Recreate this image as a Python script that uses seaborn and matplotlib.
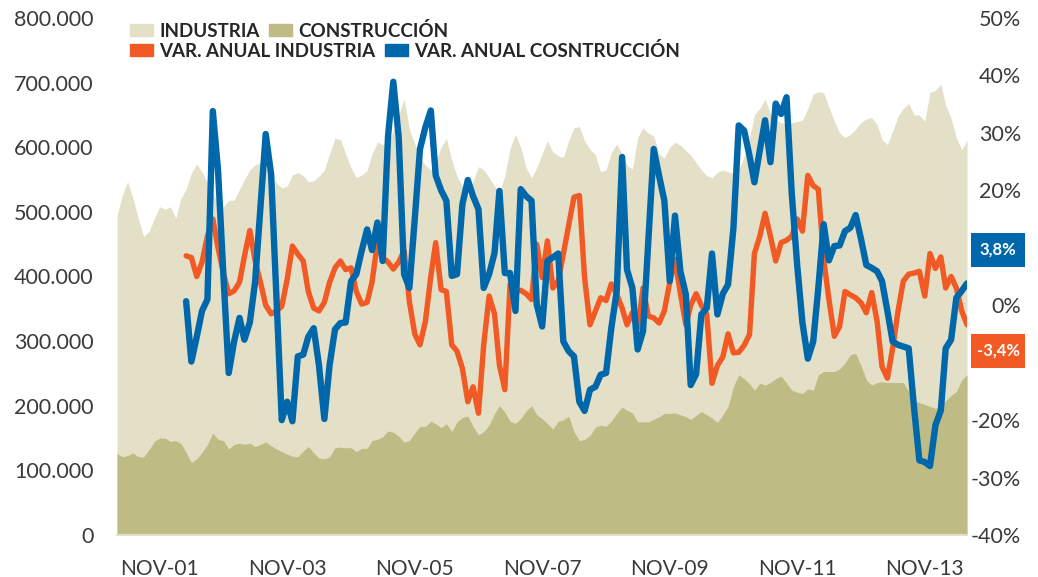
import numpy as np
import pandas as pd
import matplotlib
matplotlib.use("Agg")
import matplotlib.pyplot as plt
import matplotlib.patches as mpatches
import seaborn as sns

# monthly data, Mar 2001 - Jul 2014 (thousands of people)
industria = [495, 526, 547, 520, 490, 462, 470, 490, 508, 504, 508, 490, 520, 535, 560, 574, 562, 545, 528, 515,
             508, 518, 518, 535, 550, 565, 573, 576, 568, 555, 545, 537, 540, 557, 561, 556, 547, 548, 555, 565,
             590, 614, 612, 590, 568, 553, 557, 564, 590, 608, 604, 610, 625, 650, 675, 628, 605, 585, 572, 565,
             578, 600, 614, 580, 555, 540, 525, 548, 570, 565, 553, 540, 530, 556, 598, 620, 600, 568, 553, 568,
             590, 610, 593, 587, 584, 610, 630, 632, 610, 597, 588, 562, 565, 592, 605, 590, 572, 566, 615, 630,
             622, 617, 590, 583, 600, 608, 603, 595, 588, 576, 565, 556, 553, 561, 565, 562, 560, 566, 585, 615,
             650, 660, 674, 652, 642, 638, 636, 638, 640, 642, 660, 682, 686, 684, 662, 640, 622, 615, 620, 628,
             638, 644, 646, 635, 612, 604, 625, 648, 660, 668, 650, 650, 640, 685, 688, 698, 665, 645, 615, 596,
             611]
construccion = [126, 121, 123, 127, 121, 121, 132, 145, 150, 150, 145, 146, 142, 128, 112, 118, 128, 140, 158, 148,
                146, 133, 140, 142, 140, 142, 137, 140, 144, 138, 133, 129, 125, 122, 121, 130, 137, 127, 119, 118,
                121, 135, 136, 135, 135, 129, 134, 134, 146, 148, 152, 161, 159, 153, 144, 146, 158, 168, 168, 176,
                172, 166, 172, 160, 175, 182, 184, 168, 155, 160, 170, 188, 200, 190, 176, 173, 180, 192, 200, 186,
                180, 172, 164, 176, 178, 184, 160, 146, 148, 154, 167, 170, 168, 176, 188, 198, 193, 189, 175, 175,
                175, 179, 183, 188, 188, 189, 186, 183, 179, 185, 191, 186, 181, 174, 186, 199, 230, 248, 242, 234,
                224, 235, 232, 236, 242, 246, 235, 224, 221, 219, 226, 224, 248, 253, 253, 253, 257, 266, 279, 281,
                262, 240, 232, 236, 237, 236, 236, 236, 236, 222, 208, 205, 202, 199, 196, 200, 208, 216, 222, 240,
                248]
# annual change (%), Apr 2002 - Jul 2014
var_industria = [8.6, 8.3, 5.0, 7.5, 12.0, 15.0, 10.0, 5.5, 2.0, 2.5, 4.0, 8.5, 13.0, 7.8, 4.0, 0.0, -1.5,
                 -1.0, -0.2, 4.5, 10.3, 8.9, 7.7, 2.4, -0.5, -1.0, 0.5, 4.0, 6.5, 7.7, 6.2, 6.5, 2.4, 0.2,
                 0.5, 4.0, 10.9, 8.3, 7.5, 6.3, 7.5, 9.5, 0.7, -5.0, -6.9, -2.8, 5.0, 10.9, 2.7, 2.4, -6.9,
                 -8.0, -11.0, -16.8, -14.2, -18.8, -6.9, 1.6, -1.5, -10.4, -14.7, 3.6, 2.4, 2.6, 2.0, 1.0,
                 10.6, 4.8, 11.2, 3.0, 4.2, 8.9, 14.0, 18.8, 19.1, 4.8, -3.4, -1.0, 1.3, 0.8, 3.7, 1.9, -0.5,
                 -3.4, -1.3, -4.0, 3.0, -1.9, -2.2, -3.1, -1.0, 4.0, 8.0, 2.0, -3.4, 0.0, 2.0, 0.0, -1.6,
                 -13.6, -10.5, -9.0, -5.0, -8.3, -8.2, -7.0, -5.1, 9.0, 12.0, 16.0, 12.0, 7.7, 10.9, 11.3,
                 12.0, 15.0, 12.9, 22.6, 20.8, 20.2, 8.0, 1.0, -5.4, -3.7, 2.4, 1.8, 1.3, 0.4, -1.3, 2.2,
                 -2.8, -10.7, -12.7, -7.5, -1.0, 4.2, 5.4, 5.6, 5.9, 1.6, 9.0, 6.4, 8.4, 3.0, 5.0, 3.0,
                 -1.0, -3.4]
var_construccion = [0.7, -9.8, -5.5, -1.0, 1.0, 33.8, 23.4, 5.0, -11.8, -6.3, -2.2, -6.0, -3.0, 4.0, 17.0,
                    29.8, 22.8, 1.0, -20.0, -16.8, -20.2, -8.9, -8.6, -5.5, -4.0, -10.4, -19.8, -10.4, -4.2,
                    -3.1, -3.0, 4.2, 5.4, 9.5, 13.2, 9.6, 14.4, 7.7, 29.5, 38.9, 29.2, 5.4, 3.0, 15.0, 27.2,
                    31.0, 33.9, 22.6, 20.0, 18.2, 5.1, 5.4, 17.6, 21.8, 19.0, 16.7, 3.0, 5.4, 9.1, 19.9, 5.6,
                    5.6, -1.0, 20.2, 19.0, 18.2, 0.1, -3.7, 7.7, 8.3, 9.0, -6.3, -8.0, -8.9, -16.8, -18.4,
                    -14.7, -14.2, -12.1, -11.8, -4.0, 2.4, 25.8, 6.2, 3.0, -7.7, -4.5, 11.0, 27.2, 22.5, 18.2,
                    4.2, 15.6, 5.9, 1.9, -13.9, -12.0, -1.6, -0.5, 9.0, -1.6, 2.0, 3.6, 13.5, 31.3, 30.4,
                    26.0, 21.4, 27.0, 32.2, 24.9, 35.1, 33.3, 36.2, 19.4, 7.0, -3.0, -9.3, -6.3, 3.0, 14.1,
                    7.8, 10.3, 10.4, 12.9, 13.5, 15.7, 11.5, 7.0, 6.5, 5.9, 4.2, -1.0, -6.3, -6.9, -7.2, -7.5,
                    -18.0, -27.0, -27.3, -28.0, -20.9, -18.3, -7.5, -6.0, 1.3, 2.5, 3.8]
tick_labels = ["NOV-01", "NOV-03", "NOV-05", "NOV-07", "NOV-09", "NOV-11", "NOV-13"]

fechas = pd.date_range("2001-03-01", periods=len(industria), freq="MS")
pad = [np.nan] * (len(industria) - len(var_industria))
df = pd.DataFrame({"fecha": fechas,
                   "industria": np.array(industria) * 1000,
                   "construccion": np.array(construccion) * 1000,
                   "var_ind": pad + var_industria,
                   "var_cons": pad + var_construccion})

c_ind = "#E3E0C7"
c_cons = "#BFBB85"
c_orange = "#F15A24"
c_blue = "#0068AA"

sns.set_theme(style="white")
plt.rcParams["font.family"] = ["Lato", "DejaVu Sans"]

fig = plt.figure(figsize=(10.38, 5.77), dpi=100)
ax = fig.add_axes([117 / 1038, 1 - 535 / 577, 850 / 1038, 517 / 577])
ax.fill_between(df.fecha, 0, df.industria, color=c_ind, lw=0)
ax.fill_between(df.fecha, 0, df.construccion, color=c_cons, lw=0)
ax.set_ylim(0, 800000)
ax.set_xlim(fechas[0], fechas[-1])
ax.set_yticks(np.arange(0, 800001, 100000))
ax.set_yticklabels([f"{int(v):,}".replace(",", ".") for v in np.arange(0, 800001, 100000)])
ax.tick_params(axis="y", length=0, pad=17, labelsize=15.5, labelcolor="#3a3a3a")

xt = [pd.Timestamp(f"20{l[-2:]}-11-01") for l in tick_labels]
ax.set_xticks(xt)
ax.set_xticklabels(tick_labels)
ax.tick_params(axis="x", length=0, pad=17, labelsize=15, labelcolor="#3a3a3a")
for s in ["top", "right", "left"]:
    ax.spines[s].set_visible(False)
ax.spines["bottom"].set_color(c_ind)
ax.spines["bottom"].set_linewidth(1.5)

ax2 = ax.twinx()
sns.lineplot(data=df, x="fecha", y="var_ind", color=c_orange, lw=3.9, ax=ax2,
             solid_capstyle="round", solid_joinstyle="round")
sns.lineplot(data=df, x="fecha", y="var_cons", color=c_blue, lw=4.6, ax=ax2,
             solid_capstyle="round", solid_joinstyle="round")
ax2.set_ylim(-40, 50)
ax2.set_yticks(np.arange(-40, 51, 10))
# 10% and -10% sit under the end-value boxes
ax2.set_yticklabels(["" if abs(v) == 10 else f"{v}%" for v in np.arange(-40, 51, 10)])
ax2.tick_params(axis="y", length=0, pad=39, labelsize=15.5, labelcolor="#3a3a3a")
for lbl in ax2.get_yticklabels():
    lbl.set_ha("right")
ax2.set_xlabel("")
ax2.set_ylabel("")
ax.set_xlabel("")
for s in ax2.spines.values():
    s.set_visible(False)
ax2.set_xlim(fechas[0], fechas[-1])

# legend, two rows
h1 = [mpatches.Patch(color=c_ind, label="INDUSTRIA"),
      mpatches.Patch(color=c_cons, label="CONSTRUCCIÓN")]
h2 = [mpatches.Patch(color=c_orange, label="VAR. ANUAL INDUSTRIA"),
      mpatches.Patch(color=c_blue, label="VAR. ANUAL COSNTRUCCIÓN")]
kw = dict(frameon=False, ncol=2, borderpad=0, borderaxespad=0, handlelength=1.25, handleheight=0.6,
          handletextpad=0.3, columnspacing=0.5, prop={"weight": "bold", "size": 13.5},
          loc="upper left", bbox_transform=fig.transFigure)
leg1 = ax2.legend(handles=h1, bbox_to_anchor=(130 / 1038, 1 - 22 / 577), **kw)
ax2.add_artist(leg1)
ax2.legend(handles=h2, bbox_to_anchor=(130 / 1038, 1 - 42 / 577), **kw)

# end value boxes
for yc, txt, col in [(250, "3,8%", c_blue), (351, "-3,4%", c_orange)]:
    fig.patches.append(mpatches.Rectangle((971 / 1038, 1 - (yc + 17) / 577), 54 / 1038, 34 / 577,
                                          transform=fig.transFigure, color=col, lw=0))
    fig.text(998 / 1038, 1 - yc / 577, txt, color="white", fontsize=12, fontweight="bold",
             ha="center", va="center")

fig.savefig("out.png", dpi=100)
